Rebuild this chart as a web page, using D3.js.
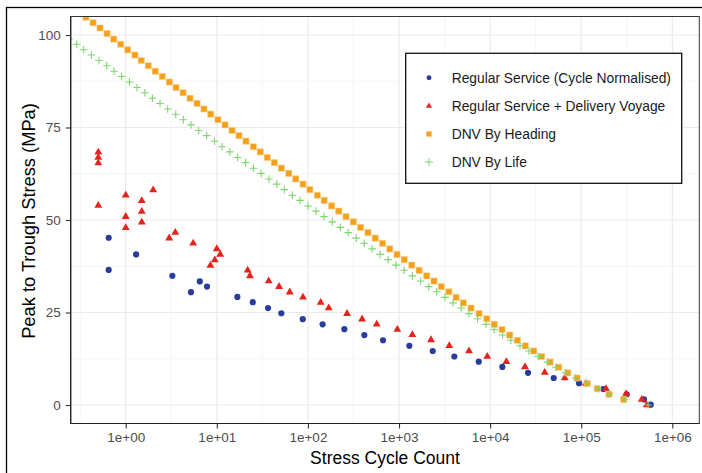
<!DOCTYPE html>
<html>
<head>
<meta charset="utf-8">
<script src="https://cdn.jsdelivr.net/npm/d3@7"></script>
<style>
html,body{margin:0;padding:0;background:#fff;}
svg{display:block;font-family:"Liberation Sans",Arial,sans-serif;}
</style>
</head>
<body>
<svg id="chart" width="702" height="473"></svg>
<script>
// ---- data ----
const xTicks = [1, 10, 100, 1000, 10000, 100000, 1000000];
const xTickLabels = ["1e+00", "1e+01", "1e+02", "1e+03", "1e+04", "1e+05", "1e+06"];
const yTicks = [0, 25, 50, 75, 100];
const yTickLabels = ["0", "25", "50", "75", "100"];
const seriesNames = ["Regular Service (Cycle Normalised)", "Regular Service + Delivery Voyage", "DNV By Heading", "DNV By Life"];

const blueX = [0.65, 0.65, 1.3, 3.25, 5.2, 6.5, 7.8, 16.8, 24.8, 36.5, 51.1, 87.7, 145, 251, 416, 667, 1298, 2344, 4046, 7499, 13614, 26061, 49888, 94624, 174985, 315500, 488600, 579400];
const blueY = [45.2, 36.5, 40.7, 34.9, 30.5, 33.4, 32.0, 29.2, 27.8, 26.2, 24.8, 23.2, 21.8, 20.5, 18.9, 17.5, 16.0, 14.6, 13.1, 11.7, 10.3, 8.7, 7.3, 5.9, 4.3, 2.9, 1.5, 0.1];

const redX = [0.5, 0.5, 0.5, 0.5, 1, 1, 1, 1.5, 1.5, 1.5, 2, 3, 3.5, 5.5, 10, 10.9, 9.5, 8.5, 21.8, 23.1, 37.1, 48.2, 63.1, 88.3, 138, 169, 269, 393, 569, 958, 1400, 2244, 3565, 5861, 9311, 15066, 24154, 39719, 65917, 111944, 187068, 310456, 461318, 523600];
const redY = [68.3, 66.9, 65.4, 53.9, 56.7, 50.9, 47.9, 55.2, 52.3, 49.4, 58.1, 45.1, 46.6, 43.7, 42.2, 40.7, 39.2, 37.7, 36.4, 34.9, 33.5, 32.0, 30.5, 29.1, 27.7, 26.2, 24.7, 23.2, 21.8, 20.4, 19.0, 17.6, 16.0, 14.6, 13.1, 11.7, 10.3, 8.8, 7.3, 5.8, 4.4, 3.0, 1.5, 0.0];

const orangeX = [0.366, 0.438, 0.522, 0.624, 0.738, 0.881, 1.05, 1.26, 1.48, 1.77, 2.11, 2.52, 3.01, 3.57, 4.26, 5.08, 6.07, 7.23, 8.57, 10.3, 12.3, 14.7, 17.5, 20.9, 25.2, 30.0, 35.8, 42.8, 51.1, 61.5, 73.5, 88.3, 105, 127, 151, 182, 218, 262, 315, 378, 456, 548, 659, 791, 951, 1140, 1380, 1660, 2010, 2420, 2910, 3520, 4230, 5080, 6170, 7550, 9180, 11100, 13500, 16400, 19900, 24300, 30100, 36800, 45500, 56600, 71100, 90000, 116000, 150000, 202000, 292000];
const orangeY = [104.8, 103.3, 101.9, 100.4, 98.9, 97.5, 96.0, 94.6, 93.1, 91.7, 90.2, 88.8, 87.3, 85.8, 84.4, 82.9, 81.5, 80.0, 78.6, 77.1, 75.7, 74.2, 72.8, 71.3, 69.8, 68.4, 66.9, 65.5, 64.0, 62.6, 61.1, 59.7, 58.2, 56.7, 55.3, 53.8, 52.4, 50.9, 49.5, 48.0, 46.6, 45.1, 43.7, 42.2, 40.7, 39.3, 37.8, 36.4, 34.9, 33.5, 32.0, 30.6, 29.1, 27.6, 26.2, 24.7, 23.3, 21.8, 20.4, 18.9, 17.5, 16.0, 14.6, 13.1, 11.6, 10.2, 8.7, 7.3, 5.8, 4.4, 2.9, 1.5];

const greenX = [0.239, 0.290, 0.346, 0.419, 0.509, 0.618, 0.745, 0.904, 1.10, 1.33, 1.62, 1.96, 2.38, 2.89, 3.54, 4.29, 5.21, 6.32, 7.75, 9.42, 11.4, 13.9, 16.9, 20.7, 25.2, 30.6, 37.4, 45.5, 55.1, 67.5, 81.9, 100, 123, 150, 185, 227, 277, 339, 415, 507, 621, 759, 927, 1140, 1400, 1730, 2120, 2590, 3200, 3920, 4800, 5860, 7280, 9020, 11100, 13700, 16900, 21300, 26700, 33600, 42500, 52800, 67600, 87100, 115000, 152000, 203000, 297000, 541000];
const greenY = [98.9, 97.5, 96.0, 94.6, 93.1, 91.7, 90.2, 88.8, 87.3, 85.8, 84.4, 82.9, 81.5, 80.0, 78.6, 77.1, 75.7, 74.2, 72.8, 71.3, 69.8, 68.4, 66.9, 65.5, 64.0, 62.6, 61.1, 59.7, 58.2, 56.7, 55.3, 53.8, 52.4, 50.9, 49.5, 48.0, 46.6, 45.1, 43.7, 42.2, 40.7, 39.3, 37.8, 36.4, 34.9, 33.5, 32.0, 30.6, 29.1, 27.6, 26.2, 24.7, 23.3, 21.8, 20.4, 18.9, 17.5, 16.0, 14.6, 13.1, 11.6, 10.2, 8.7, 7.3, 5.8, 4.4, 2.9, 1.5, 0.0];

// ---- layout ----
const svg = d3.select("#chart");
const P = {left: 70.7, right: 699.3, top: 16.5, bottom: 423.5};
const COL = {blue: "#2A3C9B", red: "#E3241D", orange: "#F5A01A", green: "#7FD66F"};

const x = d3.scaleLog().domain([Math.pow(10, -0.604), Math.pow(10, 6.296)]).range([P.left, P.right]);
const y = d3.scaleLinear().domain([-5, 105]).range([P.bottom, P.top]);

// outer frame
svg.append("rect").attr("x", 6.5).attr("y", 7.5).attr("width", 720).attr("height", 480)
  .attr("fill", "none").attr("stroke", "#000").attr("stroke-width", 1.3);

svg.append("defs").append("clipPath").attr("id", "clip")
  .append("rect").attr("x", P.left).attr("y", P.top).attr("width", P.right - P.left).attr("height", P.bottom - P.top);

const grid = svg.append("g");
// minor grid
const xMinor = d3.range(-0.5, 6.5, 1).map(e => Math.pow(10, e));
const yMinor = [12.5, 37.5, 62.5, 87.5];
grid.selectAll(".xm").data(xMinor).join("line")
  .attr("x1", d => x(d)).attr("x2", d => x(d)).attr("y1", P.top).attr("y2", P.bottom)
  .attr("stroke", "#F3F3F3").attr("stroke-width", 0.8);
grid.selectAll(".ym").data(yMinor).join("line")
  .attr("x1", P.left).attr("x2", P.right).attr("y1", d => y(d)).attr("y2", d => y(d))
  .attr("stroke", "#F3F3F3").attr("stroke-width", 0.8);
// major grid
grid.selectAll(".xM").data(xTicks).join("line")
  .attr("x1", d => x(d)).attr("x2", d => x(d)).attr("y1", P.top).attr("y2", P.bottom)
  .attr("stroke", "#EBEBEB").attr("stroke-width", 1.2);
grid.selectAll(".yM").data(yTicks).join("line")
  .attr("x1", P.left).attr("x2", P.right).attr("y1", d => y(d)).attr("y2", d => y(d))
  .attr("stroke", "#EBEBEB").attr("stroke-width", 1.2);

// points
const pts = svg.append("g").attr("clip-path", "url(#clip)");
const zip = (a, b) => a.map((v, i) => [v, b[i]]);

pts.selectAll(".blue").data(zip(blueX, blueY)).join("path")
  .attr("d", d3.symbol(d3.symbolCircle, 30)())
  .attr("transform", d => `translate(${x(d[0])},${y(d[1])})`)
  .attr("fill", COL.blue);
pts.selectAll(".red").data(zip(redX, redY)).join("path")
  .attr("d", d3.symbol(d3.symbolTriangle, 27)())
  .attr("transform", d => `translate(${x(d[0])},${y(d[1])})`)
  .attr("fill", COL.red);
pts.selectAll(".orange").data(zip(orangeX, orangeY)).join("path")
  .attr("d", d3.symbol(d3.symbolSquare, 38)())
  .attr("transform", d => `translate(${x(d[0])},${y(d[1])})`)
  .attr("fill", COL.orange).attr("stroke", "#FAD08A").attr("stroke-width", 0.6);
const crossPath = "M-3.8,0H3.8M0,-3.8V3.8";
pts.selectAll(".green").data(zip(greenX, greenY)).join("path")
  .attr("d", crossPath)
  .attr("transform", d => `translate(${x(d[0])},${y(d[1])})`)
  .attr("fill", "none").attr("stroke", COL.green).attr("stroke-width", 1.1);

// panel border
svg.append("rect").attr("x", P.left).attr("y", P.top).attr("width", P.right - P.left).attr("height", P.bottom - P.top)
  .attr("fill", "none").attr("stroke", "#333").attr("stroke-width", 1);
// axis lines
svg.append("line").attr("x1", P.left).attr("x2", P.left).attr("y1", P.top).attr("y2", P.bottom).attr("stroke", "#222").attr("stroke-width", 1.2);
svg.append("line").attr("x1", P.left).attr("x2", P.right).attr("y1", P.bottom).attr("y2", P.bottom).attr("stroke", "#222").attr("stroke-width", 1.2);

// axes
const xAxis = d3.axisBottom(x).tickValues(xTicks).tickFormat((d, i) => xTickLabels[i]).tickSize(5).tickPadding(4);
const gx = svg.append("g").attr("transform", `translate(0,${P.bottom})`).call(xAxis);
gx.select(".domain").remove();
gx.selectAll(".tick line").attr("stroke", "#333").attr("stroke-width", 1.1);
gx.selectAll(".tick text").attr("fill", "#4D4D4D").attr("font-size", "13.5px").attr("font-family", "Liberation Sans, Arial, sans-serif");

const yAxis = d3.axisLeft(y).tickValues(yTicks).tickFormat((d, i) => yTickLabels[i]).tickSize(5).tickPadding(5);
const gy = svg.append("g").attr("transform", `translate(${P.left},0)`).call(yAxis);
gy.select(".domain").remove();
gy.selectAll(".tick line").attr("stroke", "#333").attr("stroke-width", 1.1);
gy.selectAll(".tick text").attr("fill", "#4D4D4D").attr("font-size", "13.5px").attr("font-family", "Liberation Sans, Arial, sans-serif");

// titles
svg.append("text").attr("x", (P.left + P.right) / 2).attr("y", 464).attr("text-anchor", "middle")
  .attr("font-size", "17.5px").attr("fill", "#000").text("Stress Cycle Count");
svg.append("text").attr("transform", `translate(35,${(P.top + P.bottom) / 2 + 1}) rotate(-90)`).attr("text-anchor", "middle")
  .attr("font-size", "18.3px").attr("fill", "#000").text("Peak to Trough Stress (MPa)");

// legend
const lg = svg.append("g");
lg.append("rect").attr("x", 405.7).attr("y", 53.3).attr("width", 276).attr("height", 130)
  .attr("fill", "#fff").attr("stroke", "#111").attr("stroke-width", 1.3);
const rowY = [77.7, 106, 134, 162];
const keyX = 429, textX = 451.7;
const items = lg.selectAll(".item").data(seriesNames).join("g")
  .attr("transform", (d, i) => `translate(0,${rowY[i]})`);
items.append("text").attr("x", textX).attr("y", 0).attr("dy", "0.35em")
  .attr("font-size", "13.8px").attr("fill", "#1A1A1A").text(d => d);
lg.append("path").attr("d", d3.symbol(d3.symbolCircle, 19)()).attr("transform", `translate(${keyX},${rowY[0]})`).attr("fill", COL.blue);
lg.append("path").attr("d", d3.symbol(d3.symbolTriangle, 17)()).attr("transform", `translate(${keyX},${rowY[1]})`).attr("fill", COL.red);
lg.append("path").attr("d", d3.symbol(d3.symbolSquare, 27)()).attr("transform", `translate(${keyX},${rowY[2]})`).attr("fill", COL.orange);
lg.append("path").attr("d", "M-4,0H4M0,-4V4").attr("transform", `translate(${keyX},${rowY[3]})`).attr("fill", "none").attr("stroke", COL.green).attr("stroke-width", 1);
</script>
</body>
</html>
